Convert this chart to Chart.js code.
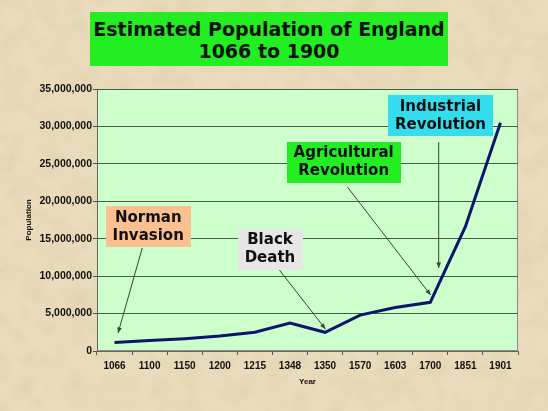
<!DOCTYPE html>
<html>
<head>
<meta charset="utf-8">
<script src="https://cdn.jsdelivr.net/npm/chart.js@4.4.1/dist/chart.umd.min.js"></script>
<style>
  html, body { margin: 0; padding: 0; }
  #wrap {
    position: relative;
    width: 548px;
    height: 411px;
    background-color: #e9dbbb;
    background-image: url("data:image/svg+xml,%3Csvg xmlns='http://www.w3.org/2000/svg' width='548' height='411'%3E%3Cfilter id='n'%3E%3CfeTurbulence type='fractalNoise' baseFrequency='0.045' numOctaves='5' seed='7'/%3E%3CfeColorMatrix type='matrix' values='0 0 0 0 0.76 0 0 0 0 0.64 0 0 0 0 0.44 1.6 0 0 0 -0.62'/%3E%3C/filter%3E%3Crect width='100%25' height='100%25' filter='url(%23n)'/%3E%3C/svg%3E");
    overflow: hidden;
  }
  #title {
    position: absolute;
    left: 90px;
    top: 12px;
    width: 358px;
    height: 54px;
    background: #22ee22;
    font-family: "DejaVu Sans", Verdana, sans-serif;
    font-weight: bold;
    font-size: 19px;
    line-height: 22px;
    color: #0a120a;
    text-align: center;
    padding-top: 6px;
    box-sizing: border-box;
  }
  #chart { position: absolute; left: 0; top: 0; }
</style>
</head>
<body>
<div id="wrap">
  <canvas id="chart" width="548" height="411"></canvas>
  <div id="title">Estimated Population of England<br>1066 to 1900</div>
</div>
<script>
// tick labels along the bottom
const years = ['1066', '1100', '1150', '1200', '1215', '1348', '1350', '1570', '1603', '1700', '1851', '1901'];
// estimated population
const population = [1150000, 1400000, 1650000, 2000000, 2500000, 3750000, 2500000, 4800000, 5800000, 6500000, 16600000, 30500000];
const yMin = 0;
const yMax = 35000000;
const yStep = 5000000;

// callouts: box centre and arrow in (category index, population) units
const notes = [
  { lines: ['Norman', 'Invasion'], fill: '#fac090', at: [0.96, 16600000], from: [0.79, 13760000], to: [0.1, 2400000] },
  { lines: ['Black', 'Death'], fill: '#e6e6e6', at: [4.43, 13560000], from: [4.7, 10820000], to: [6.01, 2940000] },
  { lines: ['Agricultural', 'Revolution'], fill: '#22ee22', at: [6.53, 25180000], from: [6.64, 21900000], to: [9.01, 7480000] },
  { lines: ['Industrial', 'Revolution'], fill: '#33ddee', at: [9.29, 31400000], from: [9.24, 27900000], to: [9.24, 11090000] }
];

const plotBackground = {
  id: 'plotBackground',
  beforeDraw(chart) {
    const { ctx, chartArea: a } = chart;
    ctx.save();
    ctx.fillStyle = '#ccffcc';
    ctx.fillRect(a.left, a.top, a.width, a.height);
    ctx.strokeStyle = '#8a8a8a';
    ctx.lineWidth = 1;
    ctx.strokeRect(a.left + 0.5, a.top + 0.5, a.width - 1, a.height - 1);
    ctx.restore();
  }
};

const callouts = {
  id: 'callouts',
  afterDatasetsDraw(chart) {
    const { ctx } = chart;
    const x = chart.scales.x, y = chart.scales.y;
    const px = p => [x.getPixelForValue(p[0]), y.getPixelForValue(p[1])];
    ctx.save();
    notes.forEach(n => {
      const [x1, y1] = px(n.from);
      const [x2, y2] = px(n.to);
      ctx.strokeStyle = '#2f4a2f';
      ctx.fillStyle = '#2f4a2f';
      ctx.lineWidth = 1;
      ctx.beginPath();
      ctx.moveTo(x1, y1);
      ctx.lineTo(x2, y2);
      ctx.stroke();
      const ang = Math.atan2(y2 - y1, x2 - x1);
      ctx.beginPath();
      ctx.moveTo(x2, y2);
      ctx.lineTo(x2 - 6 * Math.cos(ang - 0.4), y2 - 6 * Math.sin(ang - 0.4));
      ctx.lineTo(x2 - 6 * Math.cos(ang + 0.4), y2 - 6 * Math.sin(ang + 0.4));
      ctx.closePath();
      ctx.fill();
    });
    ctx.font = 'bold 15px "DejaVu Sans", Verdana, sans-serif';
    ctx.textAlign = 'center';
    ctx.textBaseline = 'middle';
    notes.forEach(n => {
      const [cx, cy] = px(n.at);
      const w = Math.max(...n.lines.map(t => ctx.measureText(t).width)) + 14;
      const h = 41;
      ctx.fillStyle = n.fill;
      ctx.fillRect(Math.round(cx - w / 2), Math.round(cy - h / 2), Math.round(w), h);
      ctx.fillStyle = '#101010';
      ctx.fillText(n.lines[0], cx, cy - 9);
      ctx.fillText(n.lines[1], cx, cy + 9);
    });
    ctx.restore();
  }
};

new Chart(document.getElementById('chart'), {
  type: 'line',
  data: {
    labels: years,
    datasets: [{
      label: 'Population',
      data: population,
      borderColor: '#0b166a',
      borderWidth: 3,
      pointRadius: 0,
      tension: 0,
      fill: false
    }]
  },
  options: {
    responsive: false,
    animation: false,
    events: [],
    layout: { padding: { top: 89, left: 20, right: 30, bottom: 0 } },
    plugins: {
      legend: { display: false },
      tooltip: { enabled: false }
    },
    scales: {
      x: {
        offset: true,
        afterFit: scale => { scale.height = 60; },
        grid: { offset: true, drawOnChartArea: false, tickLength: 4, color: '#555' },
        border: { color: '#666' },
        ticks: {
          color: '#111',
          padding: 5,
          maxRotation: 0,
          autoSkip: false,
          font: { family: '"Liberation Sans", Arial, sans-serif', size: 10, weight: 'bold' }
        },
        title: {
          display: true,
          text: 'Year',
          color: '#111',
          padding: { top: 0, bottom: 24 },
          font: { family: '"Liberation Sans", Arial, sans-serif', size: 8, weight: 'bold' }
        }
      },
      y: {
        min: yMin,
        max: yMax,
        afterFit: scale => { scale.width = 77; },
        grid: { color: '#4a5a4a', lineWidth: 1, tickLength: 4 },
        border: { color: '#666' },
        ticks: {
          stepSize: yStep,
          color: '#111',
          padding: 1,
          callback: v => v.toLocaleString('en-US'),
          font: { family: '"Liberation Sans", Arial, sans-serif', size: 10.5, weight: 'bold' }
        },
        title: {
          display: true,
          text: 'Population',
          color: '#111',
          padding: { top: 4, bottom: 0 },
          font: { family: '"Liberation Sans", Arial, sans-serif', size: 8, weight: 'bold' }
        }
      }
    }
  },
  plugins: [plotBackground, callouts]
});
</script>
</body>
</html>
